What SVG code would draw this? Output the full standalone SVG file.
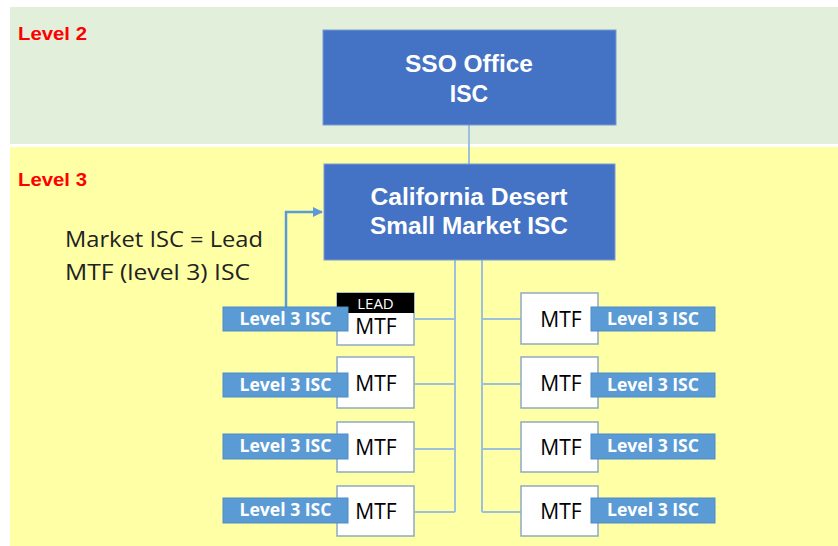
<svg xmlns="http://www.w3.org/2000/svg" width="838" height="546" viewBox="0 0 838 546">
<defs>
<style>
.band-label{font-family:"Liberation Sans",Arial,sans-serif;font-weight:bold;font-size:19px;fill:#FF0000}
.blue{fill:#4472C4;stroke:#7B9BD6;stroke-width:1}
.btxt{font-family:"Liberation Sans",Arial,sans-serif;font-weight:bold;font-size:23px;fill:#FFFFFF;text-anchor:middle}
.mtf{fill:#FFFFFF;stroke:#8FAAC4;stroke-width:1.5}
.mtxt{font-family:"Open Sans","Liberation Sans",sans-serif;font-size:21px;fill:#000000;text-anchor:middle}
.lbl{fill:#5B9BD5;stroke:#4F8CC5;stroke-width:1}
.ltxt{font-family:"Open Sans","Liberation Sans",sans-serif;font-weight:bold;font-size:17px;fill:#FFFFFF;text-anchor:middle}
.conn{fill:none;stroke:#9DC0DC;stroke-width:2}
.note{font-family:"Open Sans","Liberation Sans",sans-serif;font-size:22px;fill:#222222}
</style>
<marker id="ah" viewBox="0 0 10 10" refX="9" refY="5" markerWidth="4" markerHeight="4" orient="auto" markerUnits="strokeWidth">
<path d="M0,0 L10,5 L0,10 z" fill="#5B9BD5"/>
</marker>
</defs>
<rect x="0" y="0" width="838" height="546" fill="#FFFFFF"/>
<rect x="10" y="7" width="828" height="137" fill="#E2EFDA"/>
<rect x="10" y="147" width="828" height="399" fill="#FFFFA6"/>
<text class="band-label" x="18" y="40" textLength="69" lengthAdjust="spacingAndGlyphs">Level 2</text>
<text class="band-label" x="18" y="186" textLength="69" lengthAdjust="spacingAndGlyphs">Level 3</text>
<text class="note" x="65" y="247" textLength="198" lengthAdjust="spacingAndGlyphs">Market ISC = Lead</text>
<text class="note" x="65" y="280" textLength="185" lengthAdjust="spacingAndGlyphs">MTF (level 3) ISC</text>

<g id="connectors">
<line class="conn" x1="469" y1="125" x2="469" y2="164"/>
<polyline class="conn" points="455,260 455,512"/>
<polyline class="conn" points="482,260 482,512"/>
<line class="conn" x1="415" y1="319" x2="455" y2="319"/>
<line class="conn" x1="415" y1="384" x2="455" y2="384"/>
<line class="conn" x1="415" y1="449" x2="455" y2="449"/>
<line class="conn" x1="415" y1="512" x2="455" y2="512"/>
<line class="conn" x1="482" y1="319" x2="521" y2="319"/>
<line class="conn" x1="482" y1="384" x2="521" y2="384"/>
<line class="conn" x1="482" y1="449" x2="521" y2="449"/>
<line class="conn" x1="482" y1="512" x2="521" y2="512"/>
<polyline points="286,307 286,212 322,212" fill="none" stroke="#5B9BD5" stroke-width="2.5" marker-end="url(#ah)"/>
</g>

<g id="sso">
<rect class="blue" x="323" y="30" width="293" height="95"/>
<text class="btxt" x="469" y="72" textLength="128" lengthAdjust="spacingAndGlyphs">SSO Office</text>
<text class="btxt" x="469" y="102">ISC</text>
</g>
<g id="california">
<rect class="blue" x="324" y="164" width="291" height="96"/>
<text class="btxt" x="469" y="205" textLength="197" lengthAdjust="spacingAndGlyphs">California Desert</text>
<text class="btxt" x="469" y="234" textLength="198" lengthAdjust="spacingAndGlyphs">Small Market ISC</text>
</g>

<g id="mtf-l1">
<rect class="mtf" x="337" y="293" width="77" height="52"/>
<rect x="337" y="293" width="77" height="20" fill="#000000"/>
<text x="375.5" y="309" font-family="'Open Sans','Liberation Sans',sans-serif" font-size="15" fill="#FFFFFF" text-anchor="middle">LEAD</text>
<text class="mtxt" x="376" y="334">MTF</text>
<rect class="lbl" x="223" y="307" width="125" height="24"/>
<text class="ltxt" x="285.5" y="325" textLength="92" lengthAdjust="spacingAndGlyphs">Level 3 ISC</text>
</g>
<g id="mtf-l2">
<rect class="mtf" x="337" y="357" width="77" height="51"/>
<text class="mtxt" x="376" y="391">MTF</text>
<rect class="lbl" x="223" y="373" width="125" height="24"/>
<text class="ltxt" x="285.5" y="391" textLength="92" lengthAdjust="spacingAndGlyphs">Level 3 ISC</text>
</g>
<g id="mtf-l3">
<rect class="mtf" x="337" y="422" width="77" height="50"/>
<text class="mtxt" x="376" y="455">MTF</text>
<rect class="lbl" x="223" y="434" width="125" height="25"/>
<text class="ltxt" x="285.5" y="452" textLength="92" lengthAdjust="spacingAndGlyphs">Level 3 ISC</text>
</g>
<g id="mtf-l4">
<rect class="mtf" x="337" y="486" width="77" height="50"/>
<text class="mtxt" x="376" y="519">MTF</text>
<rect class="lbl" x="223" y="498" width="125" height="25"/>
<text class="ltxt" x="285.5" y="516" textLength="92" lengthAdjust="spacingAndGlyphs">Level 3 ISC</text>
</g>

<g id="mtf-r1">
<rect class="mtf" x="521" y="293" width="77" height="51"/>
<text class="mtxt" x="561" y="327">MTF</text>
<rect class="lbl" x="591" y="307" width="124" height="24"/>
<text class="ltxt" x="653" y="325" textLength="92" lengthAdjust="spacingAndGlyphs">Level 3 ISC</text>
</g>
<g id="mtf-r2">
<rect class="mtf" x="521" y="357" width="77" height="51"/>
<text class="mtxt" x="561" y="391">MTF</text>
<rect class="lbl" x="591" y="373" width="124" height="24"/>
<text class="ltxt" x="653" y="391" textLength="92" lengthAdjust="spacingAndGlyphs">Level 3 ISC</text>
</g>
<g id="mtf-r3">
<rect class="mtf" x="521" y="422" width="77" height="50"/>
<text class="mtxt" x="561" y="455">MTF</text>
<rect class="lbl" x="591" y="434" width="124" height="25"/>
<text class="ltxt" x="653" y="452" textLength="92" lengthAdjust="spacingAndGlyphs">Level 3 ISC</text>
</g>
<g id="mtf-r4">
<rect class="mtf" x="521" y="486" width="77" height="50"/>
<text class="mtxt" x="561" y="519">MTF</text>
<rect class="lbl" x="591" y="498" width="124" height="25"/>
<text class="ltxt" x="653" y="516" textLength="92" lengthAdjust="spacingAndGlyphs">Level 3 ISC</text>
</g>
</svg>
